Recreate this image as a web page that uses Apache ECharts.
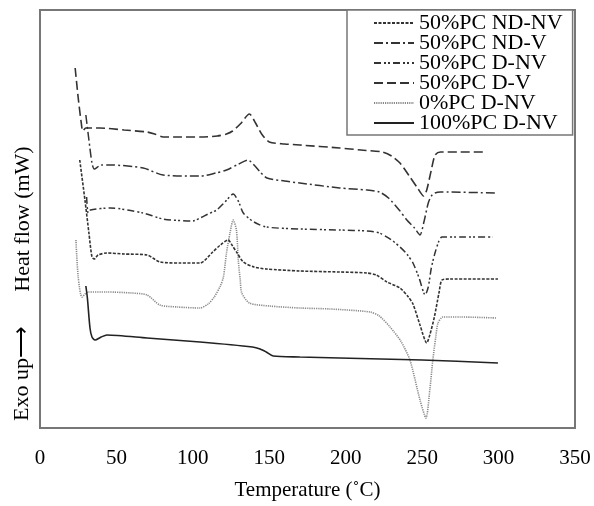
<!DOCTYPE html>
<html><head><meta charset="utf-8">
<script src="https://cdn.jsdelivr.net/npm/echarts@6/dist/echarts.min.js"></script>
<style>html,body{margin:0;padding:0;background:#fff}#c{width:594px;height:506px}</style>
</head><body><div id="c"></div>
<script>
// x tick labels
const xTicks = [0, 50, 100, 150, 200, 250, 300, 350];
// series names (legend order)
const seriesNames = ['50%PC ND-NV', '50%PC ND-V', '50%PC D-NV', '50%PC D-V', '0%PC D-NV', '100%PC D-NV'];
// [temperature (°C), heat flow (arbitrary, stacked offset)]
const pc50_ND_NV = [[26,268],[29.4,228],[32,195],[34,171],[35.5,169],[38,173],[43.8,175],[55,174],[70,173],[78.5,166],[91.6,165],[104.7,165],[113,176],[118,183],[123,188],[126,182],[129,175],[133,166],[140,161],[148,159],[170,157],[196,156],[214,155],[220,153],[227,146],[235.5,140],[241,131],[244,124],[248.6,103],[253,85],[255,93],[258,111],[261,135],[263,148],[268,149],[299.6,149]];
const pc50_ND_V = [[30,313],[32,288],[34,265],[35.5,259],[40,263],[46,263],[67.5,260],[80.5,253],[105,252],[115,255],[122,258],[130,264],[136,268],[140,263],[144,256],[148.5,250],[160,247],[170,245],[196,240],[214,238],[222,236],[228,230],[235,218],[240,208],[245,200],[248.6,193],[251,205],[254,225],[256,232],[258.4,235],[262,236],[299,235]];
const pc50_D_NV = [[30.5,231],[31.5,215],[33,218],[46,220],[67.5,215],[80.5,209],[100,207],[104.7,210],[110,214],[115.6,218],[121,226],[126.4,234],[130,226],[133,215],[140,206],[148,201],[170,199],[196,198],[214,197],[222,195],[230,188],[235.5,181],[240,174],[244,165],[248,150],[252,133],[254,141],[256,160],[258.4,175],[261,187],[263,191],[275,191],[296,191]];
const pc50_D_V = [[23,360],[25,330],[27,305],[28,297],[30,300],[39,300],[55,298],[70,296],[75,294],[80.5,291],[90,291],[105,291],[116,292],[122,294],[126,297],[131,304],[137,314],[141,305],[145,294],[150,286],[160,284],[170,283],[196,280],[210,278],[224,276],[230,272],[235.5,265],[242,251],[247,240],[251,232],[253,238],[256,258],[258.5,273],[262,276],[275,276],[292,276]];
const pc0_D_NV = [[23.5,188],[25,151],[27.5,131],[31.4,136],[43.8,136],[60,135],[70,133],[78.5,123],[90,121],[104.7,120],[110,124],[114,131],[118,142],[120,151],[122,175],[124.3,195],[126.4,208],[128.5,198],[129.7,168],[131,148],[132,135],[137,125],[150,122],[170,120],[190,119],[216,116],[222,112],[229,101],[236,87],[242,68],[248.6,28],[252.5,10],[255,38],[257,68],[259,92],[260.4,105],[263.6,111],[275,111],[299,110]];
const pc100_D_NV = [[30,142],[31,130],[32.7,100],[34,91],[36,88],[40,91],[43.8,93],[70,90],[104.7,86],[139,81],[144,79],[148,76],[152.6,72],[170,71],[196,70],[250,68],[299.6,65]];

const dataSets = [pc50_ND_NV, pc50_ND_V, pc50_D_NV, pc50_D_V, pc0_D_NV, pc100_D_NV];
const styles = [
  {color:'#333', width:1.6, type:[3,1.5]},
  {color:'#333', width:1.5, type:[9,3,2,3]},
  {color:'#333', width:1.5, type:[7,3,2,2,2,3]},
  {color:'#333', width:1.6, type:[9,4]},
  {color:'#8a8a8a', width:1.6, type:[1.2,1]},
  {color:'#222', width:1.6, type:'solid'}
];
const FONT = 'Liberation Serif';
const chart = echarts.init(document.getElementById('c'), null, {renderer:'canvas'});
chart.setOption({
  animation:false,
  backgroundColor:'#fff',
  grid:{left:40, top:10, right:19, bottom:78, show:true, borderColor:'#777', borderWidth:2, backgroundColor:'transparent'},
  xAxis:{type:'value', min:0, max:350, interval:50,
    name:'Temperature (˚C)', nameLocation:'middle', nameGap:52,
    nameTextStyle:{fontFamily:FONT, fontSize:21, color:'#000'},
    axisLine:{show:true, lineStyle:{color:'#777', width:2}},
    axisTick:{show:false}, splitLine:{show:false},
    axisLabel:{fontFamily:FONT, fontSize:21, color:'#000', margin:20,
      formatter: v => xTicks.includes(v) ? String(v) : ''}},
  yAxis:{type:'value', min:0, max:418,
    name:'Heat flow (mW)', nameLocation:'middle', nameGap:6, nameRotate:90,
    nameTextStyle:{fontFamily:FONT, fontSize:22, color:'#000'},
    axisLine:{show:true, lineStyle:{color:'#777', width:2}},
    axisTick:{show:false}, axisLabel:{show:false}, splitLine:{show:false}},
  legend:{orient:'vertical', left:347, top:10, data:seriesNames,
    backgroundColor:'#fff', borderColor:'#777', borderWidth:1.5,
    padding:[2,10,1,26], itemGap:-2, itemWidth:40, itemHeight:14,
    itemStyle:{opacity:0},
    textStyle:{fontFamily:FONT, fontSize:22, color:'#000'}},
  graphic:[{type:'text', left:11, top:326, rotation:Math.PI/2,
    style:{text:'Exo up⟶', font:'22px "Liberation Serif"', fill:'#000'}}],
  series: dataSets.map((d,i)=>({
    type:'line', name:seriesNames[i], data:d, symbol:'none', smooth:0.25,
    lineStyle:styles[i], itemStyle:{color:styles[i].color}, z: i===4?1:2
  }))
});
</script></body></html>
